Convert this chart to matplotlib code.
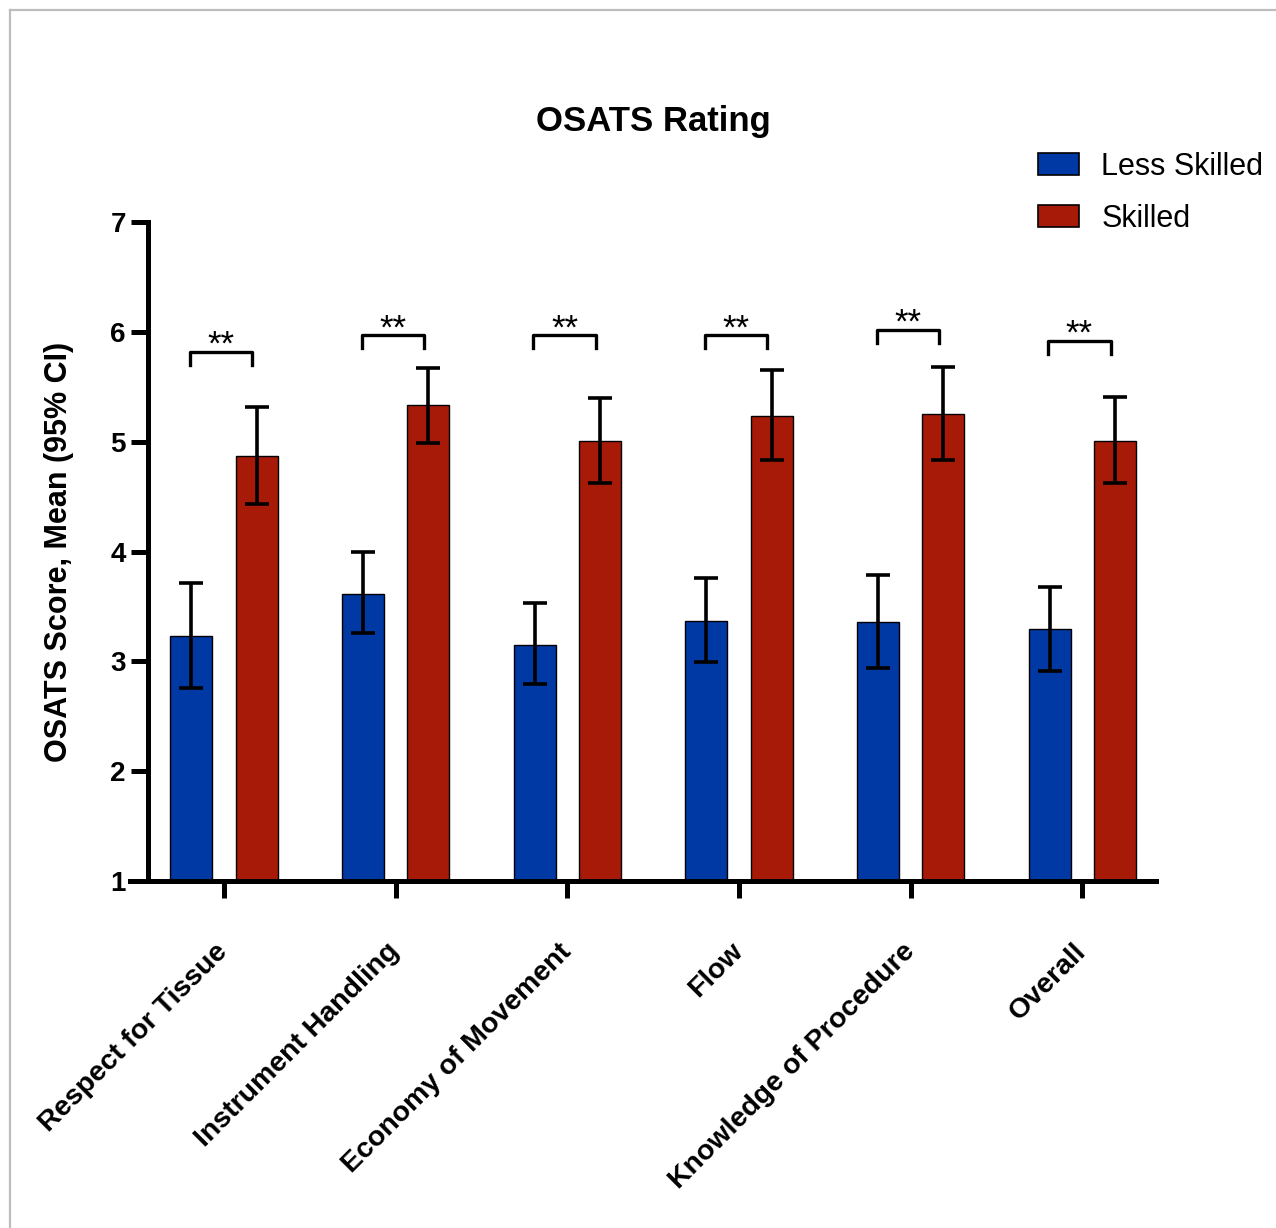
import matplotlib
matplotlib.use("Agg")
import matplotlib.pyplot as plt
from matplotlib.lines import Line2D
from matplotlib.patches import Patch
import numpy as np

plt.rcParams['font.family'] = ['Liberation Sans', 'DejaVu Sans']

categories = ["Respect for Tissue", "Instrument Handling", "Economy of Movement",
              "Flow", "Knowledge of Procedure", "Overall"]
less_mean = [3.23, 3.61, 3.15, 3.37, 3.36, 3.29]
less_lo = [2.76, 3.26, 2.79, 2.99, 2.94, 2.91]
less_hi = [3.71, 4.00, 3.53, 3.76, 3.79, 3.68]
sk_mean = [4.87, 5.33, 5.01, 5.23, 5.25, 5.01]
sk_lo = [4.43, 4.99, 4.62, 4.83, 4.83, 4.62]
sk_hi = [5.32, 5.67, 5.40, 5.65, 5.68, 5.41]
sig_labels = ["**", "**", "**", "**", "**", "**"]
bracket_y = [5.82, 5.97, 5.97, 5.97, 6.02, 5.92]
yticks = [1, 2, 3, 4, 5, 6, 7]

blue = "#0039A3"
red = "#A81A08"

fig = plt.figure(figsize=(12.76, 12.28), dpi=100)
ax = fig.add_axes([148/1276, 1-881/1228, (1156-148)/1276, (881-222)/1228])

x = np.arange(len(categories))
w = 0.245
off = 0.19
ax.bar(x - off, np.array(less_mean) - 1, w, bottom=1, color=blue, edgecolor="black", linewidth=1.0, zorder=2)
ax.bar(x + off, np.array(sk_mean) - 1, w, bottom=1, color=red, edgecolor="black", linewidth=1.0, zorder=2)

lm = np.array(less_mean); sm = np.array(sk_mean)
ax.errorbar(x - off, lm, yerr=[lm - np.array(less_lo), np.array(less_hi) - lm],
            fmt="none", ecolor="black", elinewidth=2.6, capsize=8.5, capthick=2.6, zorder=3)
ax.errorbar(x + off, sm, yerr=[sm - np.array(sk_lo), np.array(sk_hi) - sm],
            fmt="none", ecolor="black", elinewidth=2.6, capsize=8.5, capthick=2.6, zorder=3)

for i, (by, lab) in enumerate(zip(bracket_y, sig_labels)):
    x0, x1 = i - 0.198, i + 0.165
    ax.plot([x0, x0, x1, x1], [by - 0.12, by, by, by - 0.12], color="black", lw=2.4,
            solid_joinstyle="round", clip_on=False, zorder=3)
    ax.text((x0 + x1) / 2, by - 0.03, lab, ha="center", va="baseline", fontsize=25)

ax.set_xlim(-0.443, 5.43)
ax.set_ylim(1, 7)
ax.set_yticks(yticks)
ax.set_yticklabels([str(t) for t in yticks], fontsize=20, fontweight="bold")
ax.set_xticks(x)
ax.set_xticklabels(categories, fontsize=20.5, fontweight="bold", rotation=45,
                   ha="right", va="center", rotation_mode="anchor")
ax.tick_params(axis="x", length=12, width=3.6, pad=36)
ax.tick_params(axis="y", length=12, width=3.6, pad=4)
for s in ["top", "right"]:
    ax.spines[s].set_visible(False)
for s in ["left", "bottom"]:
    ax.spines[s].set_linewidth(3.6)
ax.spines["bottom"].set_bounds(-0.55, 5.43)
ax.set_ylabel("OSATS Score, Mean (95% CI)", fontsize=22, fontweight="bold", labelpad=26)

fig.text(653/1276, 1-122/1228, "OSATS Rating", ha="center", va="center",
         fontsize=25, fontweight="bold")

handles = [Patch(facecolor=blue, edgecolor="black", linewidth=1.2, label="Less Skilled"),
           Patch(facecolor=red, edgecolor="black", linewidth=1.2, label="Skilled")]
fig.legend(handles=handles, loc="upper left", bbox_to_anchor=(1038/1276, 1-152/1228),
           frameon=False, fontsize=22, handlelength=1.35, handleheight=0.72,
           handletextpad=0.72, labelspacing=0.72, borderpad=0, borderaxespad=0)

fig.add_artist(Line2D([9.5/1276, 9.5/1276], [0, 1-9.5/1228], color="#BDBDBD", lw=1.6))
fig.add_artist(Line2D([9.5/1276, 1], [1-9.5/1228, 1-9.5/1228], color="#BDBDBD", lw=1.6))

fig.savefig("out.png", dpi=100, facecolor="white")
